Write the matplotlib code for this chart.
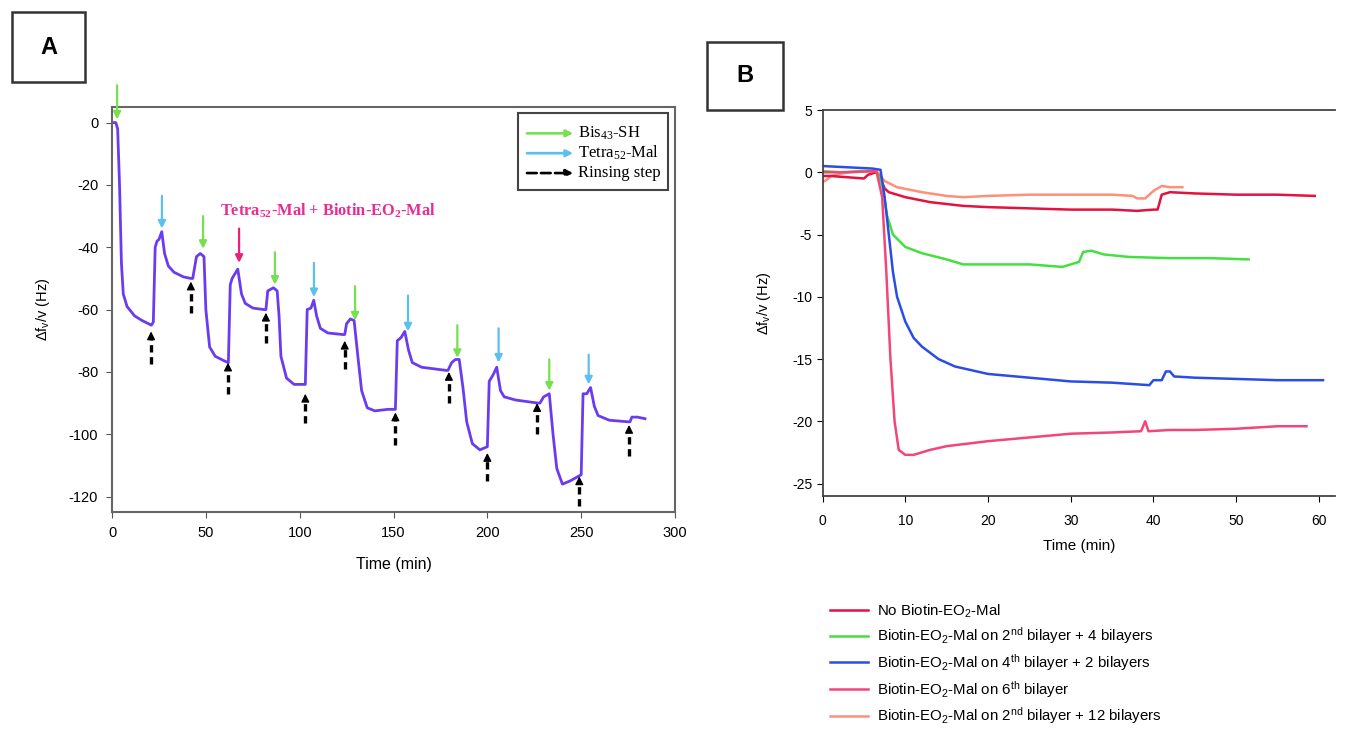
import matplotlib.pyplot as plt
from matplotlib.patches import Rectangle

plt.rcParams['font.family'] = ['Liberation Sans', 'DejaVu Sans']
plt.rcParams['mathtext.default'] = 'regular'
plt.rcParams['axes.unicode_minus'] = False

# ---------------- Panel A: layer-by-layer QCM trace ----------------
a_time = [0, 2, 3, 4, 5, 6, 8, 12, 16, 21, 22,
          23, 24, 25, 26.5, 28, 30, 33, 38, 42,
          43, 45, 47, 49, 50, 52, 55, 60, 62,
          63, 64, 66, 67, 69, 71, 75, 81,
          82, 83, 86, 88, 89, 90, 93, 97, 103,
          104, 106, 107.5, 109, 111, 115, 123,
          124, 125, 127, 129, 131, 133, 136, 140, 147, 151,
          152, 154, 156, 158, 160, 165, 178,
          179, 181, 183, 185, 187, 189, 192, 196, 200,
          201, 203, 205, 207, 209, 215, 227,
          228, 230, 233, 235, 237, 240, 244, 250,
          251, 253, 255, 257, 259, 265, 275,
          276, 277, 280, 284]
a_shift = [0, 0, -2, -20, -45, -55, -59, -62, -63.5, -65, -64,
           -40, -38, -37.5, -35, -42, -46, -48, -49.5, -50,
           -50, -43, -42, -43, -60, -72, -75, -76.5, -77,
           -52, -50, -48, -47, -55, -58, -59.5, -60,
           -60, -54, -53, -54, -62, -75, -82, -84, -84,
           -60, -59.5, -57, -62, -66, -67.5, -68,
           -68, -64.5, -63, -63.5, -75, -86, -91.5, -92.5, -92, -92,
           -70, -69, -67, -73, -77, -78.5, -79.5,
           -79.5, -77, -76, -76, -85, -96, -103, -105, -104,
           -83, -81, -78.5, -86, -88, -89, -90,
           -90, -88, -87, -100, -111, -116, -115, -113,
           -87, -87, -85, -91, -94, -95.5, -96,
           -96, -94.5, -94.5, -95]

# injection arrows: time, tail value, tip value
bis_t = [2.7, 48.5, 86.8, 129.5, 184, 233]
bis_tail = [12, -30, -41.6, -52.5, -65, -76]
bis_tip = [1, -40.5, -52, -63.5, -75.5, -86]
tetra_t = [26.6, 107.6, 157.7, 206, 254]
tetra_tail = [-23.5, -45, -55.5, -66, -74.5]
tetra_tip = [-34, -56, -67, -77, -84]
biotin_t = [67.7]
biotin_tail = [-34]
biotin_tip = [-45]
rinse_t = [20.8, 42, 61.8, 82, 103, 124, 151, 179.5, 200, 226.5, 249, 275.5]
rinse_tail = [-77.5, -61, -87, -70.6, -96.5, -79, -103.5, -90, -115, -100, -123, -107]
rinse_tip = [-67, -51, -77, -61, -87, -70, -93, -80, -106, -90, -113.5, -97]

# ---------------- Panel B: single-layer responses ----------------
no_biotin_t = [0, 1, 3, 5, 5.5, 6.5, 7, 7.5, 8, 10, 13, 17, 20, 25, 30, 35, 38, 40,
               40.5, 41, 42, 45, 50, 55, 59.5]
no_biotin_v = [-0.3, -0.3, -0.4, -0.5, -0.2, 0, -0.5, -1.3, -1.6, -2.0, -2.4, -2.7, -2.8,
               -2.9, -3.0, -3.0, -3.1, -3.0, -3.0, -1.8, -1.6, -1.7, -1.8, -1.8, -1.9]
b2_4_t = [0, 2, 5, 6.5, 7.2, 7.8, 8.5, 10, 12, 15, 17, 20, 25, 29, 30.5, 31, 31.5,
          32.5, 34, 37, 42, 47, 51.5]
b2_4_v = [0.1, 0.0, 0.1, 0.1, -1, -3.5, -5.0, -6.0, -6.5, -7.0, -7.4, -7.4, -7.4, -7.6,
          -7.3, -7.2, -6.4, -6.3, -6.6, -6.8, -6.9, -6.9, -7.0]
b4_2_t = [0, 3, 6, 7, 7.5, 8, 8.5, 9, 10, 11, 12, 14, 16, 18, 20, 25, 30, 35, 39.5,
          40, 41, 41.5, 42, 42.5, 45, 50, 55, 60.5]
b4_2_v = [0.5, 0.4, 0.3, 0.2, -2, -5, -8, -10, -12, -13.3, -14.0, -15, -15.6, -15.9,
          -16.2, -16.5, -16.8, -16.9, -17.1, -16.7, -16.7, -16.0, -16.0, -16.4, -16.5,
          -16.6, -16.7, -16.7]
b6_t = [0, 3, 6.5, 7.2, 7.7, 8.2, 8.7, 9.2, 10, 11, 13, 15, 20, 25, 30, 35, 38.5, 39,
        39.4, 42, 45, 50, 55, 58.5]
b6_v = [0, 0, 0.1, -2, -8, -15, -20, -22.3, -22.7, -22.7, -22.3, -22.0, -21.6, -21.3,
        -21.0, -20.9, -20.8, -20.0, -20.8, -20.7, -20.7, -20.6, -20.4, -20.4]
b2_12_t = [0, 0.5, 1, 3, 6.5, 7.5, 9, 12, 15, 17, 20, 25, 30, 35, 37.5, 38, 39, 40,
           41, 42, 43.5]
b2_12_v = [-0.8, -0.6, -0.3, 0, 0.1, -0.7, -1.2, -1.6, -1.9, -2.0, -1.9, -1.8, -1.8,
           -1.8, -1.9, -2.1, -2.1, -1.5, -1.1, -1.2, -1.2]

b_labels = ['No Biotin-EO$_2$-Mal',
            'Biotin-EO$_2$-Mal on 2$^{nd}$ bilayer + 4 bilayers',
            'Biotin-EO$_2$-Mal on 4$^{th}$ bilayer + 2 bilayers',
            'Biotin-EO$_2$-Mal on 6$^{th}$ bilayer',
            'Biotin-EO$_2$-Mal on 2$^{nd}$ bilayer + 12 bilayers']
b_colors = ['#e3123f', '#44e040', '#2a4de8', '#f2467a', '#ff9078']

fig = plt.figure(figsize=(13.53, 7.51), dpi=100)

# ---- Panel A ----
axA = fig.add_axes([0.0828, 0.318, 0.4161, 0.5395])
axA.plot(a_time, a_shift, color='#6a3cf0', lw=2)
axA.set_xlim(0, 300)
axA.set_ylim(-125, 5)
axA.set_xticks(range(0, 301, 50))
axA.set_yticks(range(-120, 1, 20))
axA.tick_params(direction='out', labelsize=10.5, length=4, color='#555555')
axA.tick_params(axis='x', pad=6)
axA.tick_params(axis='y', pad=6)
for s in axA.spines.values():
    s.set_color('#666666')
    s.set_linewidth(1.5)
axA.set_xlabel('Time (min)', fontsize=11.5, labelpad=12)
axA.set_ylabel('Δf$_v$/v (Hz)', fontsize=10.5, labelpad=12)

def inj(ax, ts, tails, tips, color):
    for t, y0, y1 in zip(ts, tails, tips):
        ax.annotate('', xy=(t, y1), xytext=(t, y0), annotation_clip=False,
                    arrowprops=dict(arrowstyle='-|>', color=color, lw=1.6,
                                    mutation_scale=11, shrinkA=0, shrinkB=0))

inj(axA, bis_t, bis_tail, bis_tip, '#77e050')
inj(axA, tetra_t, tetra_tail, tetra_tip, '#5cc0ee')
inj(axA, biotin_t, biotin_tail, biotin_tip, '#ee1f78')
for t, y0, y1 in zip(rinse_t, rinse_tail, rinse_tip):
    axA.plot([t, t], [y0, y1 - 2], color='black', lw=2.4, ls=(0, (2.2, 1.4)),
             solid_capstyle='butt')
    axA.annotate('', xy=(t, y1), xytext=(t, y1 - 2.5),
                 arrowprops=dict(arrowstyle='-|>', color='black', lw=1,
                                 mutation_scale=12, shrinkA=0, shrinkB=0))

axA.text(115, -28.4, 'Tetra$_{52}$-Mal + Biotin-EO$_2$-Mal', color='#ec2a92',
         fontsize=11.8, fontweight='bold', family='Liberation Serif',
         ha='center', va='center')

# manual legend (arrows) in panel A
axA.add_patch(Rectangle((0.721, 0.795), 0.267, 0.19, transform=axA.transAxes,
                        fill=False, ec='#444444', lw=1.5, zorder=5))
leg_items = [('Bis$_{43}$-SH', '#77e050', '-'),
             ('Tetra$_{52}$-Mal', '#5cc0ee', '-'),
             ('Rinsing step', 'black', '--')]
for i, (lab, col, ls) in enumerate(leg_items):
    yy = 0.935 - i * 0.049
    axA.annotate('', xy=(0.819, yy), xytext=(0.737, yy), xycoords='axes fraction',
                 arrowprops=dict(arrowstyle='-|>', color=col, lw=1.9, ls=ls,
                                 mutation_scale=10, shrinkA=0, shrinkB=0))
    axA.text(0.828, yy, lab, transform=axA.transAxes, family='Liberation Serif',
             fontsize=12, va='center', ha='left')

# ---- Panel B ----
axB = fig.add_axes([0.608, 0.3396, 0.379, 0.5139])
b_series = [(no_biotin_t, no_biotin_v), (b2_4_t, b2_4_v), (b4_2_t, b4_2_v),
            (b6_t, b6_v), (b2_12_t, b2_12_v)]
order = [4, 0, 1, 2, 3]
lines = {}
for k in order:
    t, v = b_series[k]
    lines[k], = axB.plot(t, v, color=b_colors[k], lw=1.8, label=b_labels[k])
axB.set_xlim(0, 62)
axB.set_ylim(-26, 5)
axB.set_xticks(range(0, 61, 10))
axB.set_yticks(range(-25, 6, 5))
axB.spines['right'].set_visible(False)
for s in axB.spines.values():
    s.set_color('#444444')
    s.set_linewidth(1.3)
axB.tick_params(direction='out', labelsize=10, length=4)
axB.tick_params(axis='x', pad=9)
axB.set_xlabel('Time (min)', fontsize=11, labelpad=8)
axB.set_ylabel('Δf$_v$/v (Hz)', fontsize=10.5, labelpad=14)

fig.legend(handles=[lines[k] for k in range(5)], labels=b_labels,
           loc='upper left', bbox_to_anchor=(0.6135, 0.198), frameon=False,
           fontsize=10.8, handlelength=2.5, labelspacing=0.38, handletextpad=0.6,
           borderaxespad=0, borderpad=0)

# panel letters
for (x0, y0, w, h, lab) in [(12, 12, 73, 70, 'A'), (707, 42, 76, 68, 'B')]:
    fig.patches.append(Rectangle((x0 / 1353, 1 - (y0 + h) / 751), w / 1353, h / 751,
                                 transform=fig.transFigure, fill=False,
                                 ec='#333333', lw=1.8))
    fig.text((x0 + w / 2) / 1353, 1 - (y0 + h / 2) / 751, lab, fontsize=17,
             fontweight='bold', ha='center', va='center')

fig.savefig('out.png', dpi=100)
